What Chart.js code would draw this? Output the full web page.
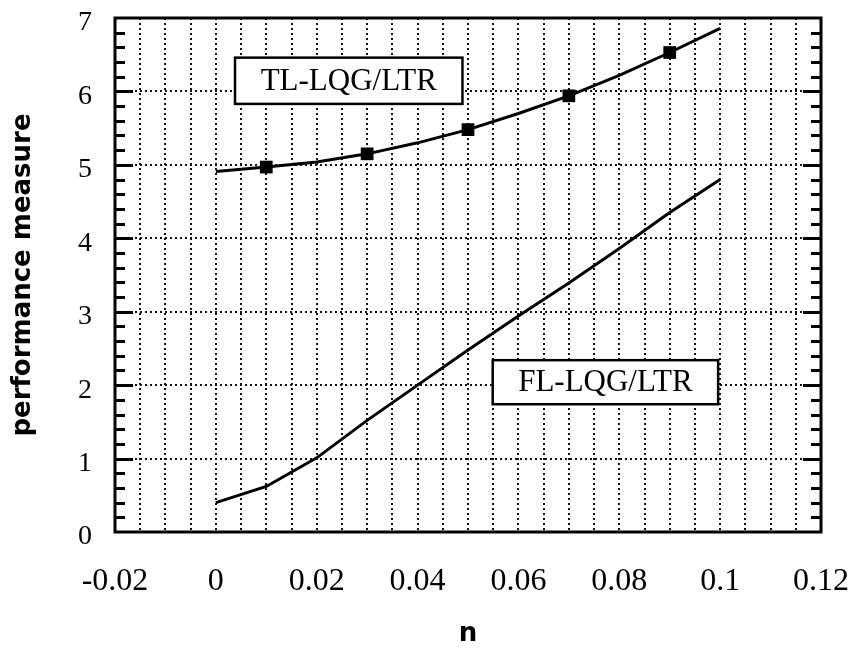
<!DOCTYPE html>
<html>
<head>
<meta charset="utf-8">
<script src="https://cdn.jsdelivr.net/npm/chart.js@4/dist/chart.umd.min.js"></script>
<style>
    html, body { margin: 0; padding: 0; background: #fff; }
    canvas { display: block; }
</style>
</head>
<body>
<canvas id="perf-chart" width="850" height="650"></canvas>
<script>
    // Controller parameter n and the two performance curves
    const nValues = [0, 0.01, 0.02, 0.03, 0.04, 0.05, 0.06, 0.07, 0.08, 0.09, 0.1];
    const tlValues = [4.91, 4.97, 5.04, 5.15, 5.30, 5.48, 5.70, 5.94, 6.22, 6.53, 6.86];
    const flValues = [0.40, 0.62, 1.01, 1.52, 2.00, 2.48, 2.94, 3.39, 3.86, 4.35, 4.80];

    // Square markers sit on every other sample of the TL curve
    const tlMarkers = [0, 1, 0, 1, 0, 1, 0, 1, 0, 1, 0];

    // Axis tick labels
    const xLabelValues = [-0.02, 0, 0.02, 0.04, 0.06, 0.08, 0.1, 0.12];
    const xLabelText = ['-0.02', '0', '0.02', '0.04', '0.06', '0.08', '0.1', '0.12'];
    const yLabelText = ['0', '1', '2', '3', '4', '5', '6', '7'];

    // Curve name boxes: [label, n left, n right, top value, bottom value]
    const curveNames = [
        ['TL-LQG/LTR', 0.0038, 0.0489, 6.46, 5.83],
        ['FL-LQG/LTR', 0.0549, 0.0996, 2.34, 1.74]
    ];

    const serif = '"Liberation Serif", "Times New Roman", serif';

    function toPoints(ys) {
        return nValues.map((n, i) => ({ x: n, y: ys[i] }));
    }

    // Frame, inward minor/major ticks on both sides and the name boxes
    const framePlugin = {
        id: 'frame',
        afterDraw(chart) {
            const ctx = chart.ctx;
            const area = chart.chartArea;
            const xs = chart.scales.x;
            const ys = chart.scales.y;
            ctx.save();
            ctx.strokeStyle = '#000';
            ctx.lineCap = 'butt';

            ctx.lineWidth = 3;
            for (let k = 1; k < 35; k++) {
                const v = k / 5;
                const y = Math.round(ys.getPixelForValue(v)) + 0.5;
                const len = (k % 5 === 0) ? 18 : 10;
                ctx.beginPath();
                ctx.moveTo(area.left, y);
                ctx.lineTo(area.left + len, y);
                ctx.moveTo(area.right, y);
                ctx.lineTo(area.right - len, y);
                ctx.stroke();
            }

            ctx.lineWidth = 3;
            ctx.strokeRect(area.left, area.top, area.right - area.left, area.bottom - area.top);

            ctx.font = '31px ' + serif;
            ctx.textAlign = 'center';
            ctx.textBaseline = 'middle';
            curveNames.forEach(([text, x0, x1, y0, y1]) => {
                const l = xs.getPixelForValue(x0);
                const r = xs.getPixelForValue(x1);
                const t = ys.getPixelForValue(y0);
                const b = ys.getPixelForValue(y1);
                ctx.fillStyle = '#fff';
                ctx.fillRect(l, t, r - l, b - t);
                ctx.lineWidth = 2.5;
                ctx.strokeRect(l, t, r - l, b - t);
                ctx.fillStyle = '#000';
                ctx.fillText(text, (l + r) / 2, (t + b) / 2 + 1);
            });
            ctx.restore();
        }
    };

    const dotted = {
        color: '#111',
        lineWidth: 2,
        drawTicks: false
    };

    new Chart(document.getElementById('perf-chart'), {
        type: 'line',
        data: {
            datasets: [{
                label: 'TL-LQG/LTR',
                data: toPoints(tlValues),
                borderColor: '#000',
                backgroundColor: '#000',
                borderWidth: 3,
                pointStyle: 'rect',
                pointRadius: tlMarkers.map(m => m ? 9 : 0),
                pointBorderWidth: 0,
                tension: 0
            }, {
                label: 'FL-LQG/LTR',
                data: toPoints(flValues),
                borderColor: '#000',
                backgroundColor: '#000',
                borderWidth: 3,
                pointRadius: 0,
                tension: 0
            }]
        },
        options: {
            responsive: false,
            animation: false,
            layout: {
                padding: { top: 18, right: 29, left: 0, bottom: 0 }
            },
            plugins: {
                legend: { display: false },
                tooltip: { enabled: false }
            },
            scales: {
                x: {
                    type: 'linear',
                    min: -0.02,
                    max: 0.12,
                    border: { display: false, dash: [2, 3] },
                    grid: dotted,
                    afterFit(scale) {
                        scale.height = 118;
                        scale.paddingLeft = 0;
                        scale.paddingRight = 0;
                    },
                    ticks: {
                        stepSize: 0.005,
                        autoSkip: false,
                        maxRotation: 0,
                        minRotation: 0,
                        padding: 30,
                        color: '#000',
                        font: { family: serif, size: 32 },
                        callback(value) {
                            const i = xLabelValues.findIndex(v => Math.abs(v - value) < 1e-9);
                            return i >= 0 ? xLabelText[i] : '';
                        }
                    },
                    title: {
                        display: true,
                        text: 'n',
                        color: '#000',
                        padding: { top: 0, bottom: 0 },
                        font: { family: '"DejaVu Sans", sans-serif', size: 26, weight: 'bold' }
                    }
                },
                y: {
                    min: 0,
                    max: 7,
                    border: { display: false, dash: [2, 3] },
                    grid: dotted,
                    afterFit(scale) {
                        scale.width = 115;
                        scale.paddingTop = 0;
                        scale.paddingBottom = 0;
                    },
                    ticks: {
                        stepSize: 1,
                        padding: 23,
                        labelOffset: 5,
                        color: '#000',
                        font: { family: serif, size: 28 },
                        callback(value) {
                            return yLabelText[value] !== undefined ? yLabelText[value] : '';
                        }
                    },
                    title: {
                        display: true,
                        text: 'performance measure',
                        color: '#000',
                        padding: { top: 8, bottom: 0 },
                        font: { family: '"DejaVu Sans", sans-serif', size: 26, weight: 'bold' }
                    }
                }
            }
        },
        plugins: [framePlugin]
    });
</script>
</body>
</html>
